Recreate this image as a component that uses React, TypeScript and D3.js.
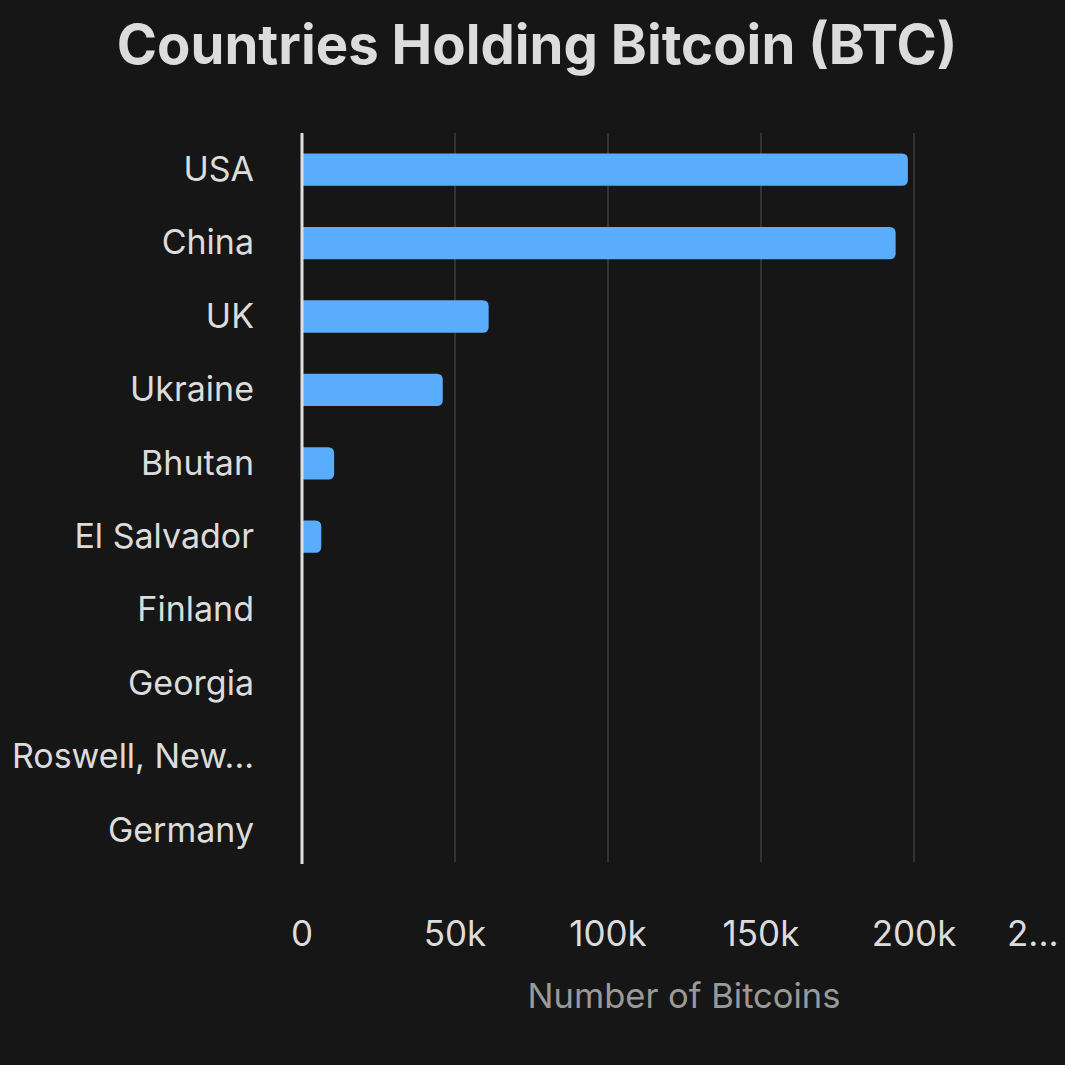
import React, { useEffect, useRef } from 'react'
import * as d3 from 'd3'

const countries = ['USA', 'China', 'UK', 'Ukraine', 'Bhutan', 'El Salvador', 'Finland', 'Georgia', 'Roswell, New...', 'Germany']
const holdings = [198000, 194000, 61000, 46000, 10500, 6300, 90, 66, 0, 0]
const tickValues = [0, 50000, 100000, 150000, 200000]
const tickLabels = ['0', '50k', '100k', '150k', '200k']

const W = 1065
const H = 1065

function App() {
    const ref = useRef<SVGSVGElement>(null)

    useEffect(() => {
        const svg = d3.select(ref.current)
        svg.selectAll('*').remove()

        const margin = { top: 133, left: 302, bottom: 867 }
        const font = 'Inter, Roboto, sans-serif'

        svg.append('rect').attr('width', W).attr('height', H).attr('fill', '#161616')

        // title
        svg.append('text')
            .attr('x', 537)
            .attr('y', 64)
            .attr('text-anchor', 'middle')
            .attr('font-family', font)
            .attr('font-weight', 700)
            .attr('font-size', 54.5)
            .attr('fill', '#dcdcdc')
            .text('Countries Holding Bitcoin (BTC)')

        const x = d3.scaleLinear()
            .domain([0, 200000])
            .range([margin.left, 914])

        const y = d3.scaleBand()
            .domain(countries)
            .range([margin.top, margin.bottom])
            .paddingInner(0.56)
            .paddingOuter(0.28)

        // grid
        svg.append('g')
            .selectAll('line')
            .data(tickValues.slice(1))
            .join('line')
            .attr('x1', d => x(d))
            .attr('x2', d => x(d))
            .attr('y1', margin.top)
            .attr('y2', 862)
            .attr('stroke', '#333')
            .attr('stroke-width', 2)

        // bars
        svg.append('g')
            .selectAll('path')
            .data(holdings)
            .join('path')
            .attr('fill', '#5aacfd')
            .attr('d', (d, i) => {
                const x0 = x(0)
                const w = x(d) - x0
                if (w < 0.5) return ''
                const y0 = y(countries[i])!
                const h = y.bandwidth()
                const r = Math.min(6, w / 2)
                return `M${x0},${y0}H${x0 + w - r}Q${x0 + w},${y0} ${x0 + w},${y0 + r}V${y0 + h - r}Q${x0 + w},${y0 + h} ${x0 + w - r},${y0 + h}H${x0}Z`
            })

        // zero axis line
        svg.append('line')
            .attr('x1', x(0)).attr('x2', x(0))
            .attr('y1', margin.top).attr('y2', 864)
            .attr('stroke', '#e0e0e0')
            .attr('stroke-width', 3)

        // y labels
        svg.append('g')
            .selectAll('text')
            .data(countries)
            .join('text')
            .attr('x', 254)
            .attr('y', d => y(d)! + y.bandwidth() / 2 - 1)
            .attr('dy', '0.36em')
            .attr('text-anchor', 'end')
            .attr('font-family', font)
            .attr('font-size', 34)
            .attr('fill', '#dcdcdc')
            .text(d => d)

        // x tick labels
        svg.append('g')
            .selectAll('text')
            .data(tickValues)
            .join('text')
            .attr('x', d => x(d))
            .attr('y', 946)
            .attr('text-anchor', 'middle')
            .attr('font-family', font)
            .attr('font-size', 35)
            .attr('fill', '#dcdcdc')
            .text((d, i) => tickLabels[i])

        // truncated last tick
        svg.append('text')
            .attr('x', 1007)
            .attr('y', 946)
            .attr('font-family', font)
            .attr('font-size', 35)
            .attr('fill', '#dcdcdc')
            .text('2...')

        svg.append('text')
            .attr('x', 684)
            .attr('y', 1008)
            .attr('text-anchor', 'middle')
            .attr('font-family', font)
            .attr('font-size', 34.5)
            .attr('fill', '#9a9a9a')
            .text('Number of Bitcoins')
    }, [])

    return (
        <svg ref={ref} width={W} height={H} style={{ display: 'block', position: 'absolute', left: 0, top: 0 }} />
    )
}

export default App
